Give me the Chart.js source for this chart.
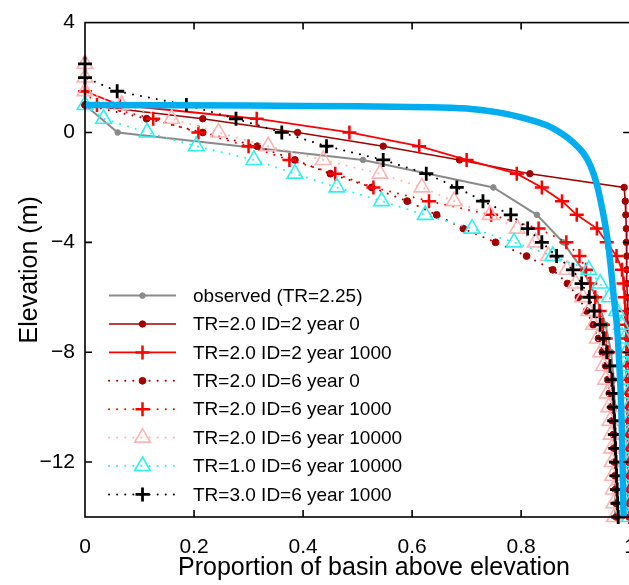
<!DOCTYPE html>
<html><head><meta charset="utf-8">
<script src="https://cdn.jsdelivr.net/npm/chart.js@4.4.1/dist/chart.umd.min.js"></script>
<style>
html,body{margin:0;padding:0;overflow:hidden;background:#fff;width:629px;height:585px}
#wrap{position:absolute;left:0;top:0;width:654px;height:585px}
</style>
</head><body><div id="wrap"><canvas id="c" width="654" height="585"></canvas></div>
<script>
// ---- tick labels ----
const xTicks = [0, 0.2, 0.4, 0.6, 0.8, 1];
const yTicks = [-12, -8, -4, 0, 4];
const xTitle = 'Proportion of basin above elevation';
const yTitle = 'Elevation (m)';

// ---- series labels ----
const seriesLabels = [
  'observed (TR=2.25)',
  'TR=2.0 ID=2 year 0',
  'TR=2.0 ID=2 year 1000',
  'TR=2.0 ID=6 year 0',
  'TR=2.0 ID=6 year 1000',
  'TR=2.0 ID=6 year 10000',
  'TR=1.0 ID=6 year 10000',
  'TR=3.0 ID=6 year 1000'
];

// ---- elevations (m) ----
const obsElev = [1, 0, -1, -2, -3, -4, -5, -6, -7, -8, -9, -10, -11, -12, -13, -14];
const elevFrom1 = [1, 0.5, 0, -0.5, -1, -1.5, -2, -2.5, -3, -3.5, -4, -4.5, -5, -5.5, -6, -6.5, -7, -7.5, -8, -8.5, -9, -9.5, -10, -10.5, -11, -11.5, -12, -12.5, -13, -13.5, -14];
const elevFrom15 = [1.5, 1, 0.5, 0, -0.5, -1, -1.5, -2, -2.5, -3, -3.5, -4, -4.5, -5, -5.5, -6, -6.5, -7, -7.5, -8, -8.5, -9, -9.5, -10, -10.5, -11, -11.5, -12, -12.5, -13, -13.5, -14];
const elevFrom25 = [2.5, 2, 1.5, 1, 0.5, 0, -0.5, -1, -1.5, -2, -2.5, -3, -3.5, -4, -4.5, -5, -5.5, -6, -6.5, -7, -7.5, -8, -8.5, -9, -9.5, -10, -10.5, -11, -11.5, -12, -12.5, -13, -13.5, -14];

// ---- proportion of basin above elevation ----
const obsProp = [0, 0.06, 0.51, 0.749, 0.829, 0.877, 0.913, 0.938, 0.955, 0.965, 0.970, 0.972, 0.9725, 0.9725, 0.9725, 0.9725];
const id2y0Prop = [0, 0.216, 0.39, 0.547, 0.687, 0.816, 0.989, 0.991, 0.992, 0.993, 0.993, 0.994, 0.994, 0.994, 0.995, 0.995, 0.995, 0.995, 0.996, 0.996, 0.996, 0.996, 0.997, 0.997, 0.997, 0.997, 0.997, 0.998, 0.998, 0.998, 0.998];
const id2y1000Prop = [0, 0.064, 0.315, 0.485, 0.613, 0.70, 0.792, 0.838, 0.875, 0.902, 0.939, 0.957, 0.975, 0.985, 0.988, 0.990, 0.991, 0.992, 0.993, 0.993, 0.994, 0.994, 0.995, 0.995, 0.995, 0.996, 0.996, 0.996, 0.997, 0.997, 0.997, 0.998];
const id6y0Prop = [0, 0.113, 0.216, 0.316, 0.385, 0.45, 0.526, 0.591, 0.645, 0.694, 0.753, 0.81, 0.858, 0.885, 0.905, 0.92, 0.932, 0.942, 0.949, 0.955, 0.959, 0.962, 0.965, 0.967, 0.969, 0.97, 0.971, 0.972, 0.973, 0.974, 0.975];
const id6y1000Prop = [0, 0.022, 0.125, 0.208, 0.30, 0.375, 0.459, 0.529, 0.631, 0.745, 0.832, 0.883, 0.907, 0.919, 0.927, 0.936, 0.944, 0.95, 0.955, 0.96, 0.963, 0.966, 0.968, 0.97, 0.971, 0.972, 0.973, 0.974, 0.975, 0.976, 0.977, 0.978];
const id6y10000Prop = [0, 0, 0, 0.067, 0.159, 0.245, 0.336, 0.437, 0.541, 0.618, 0.677, 0.743, 0.793, 0.826, 0.85, 0.884, 0.9, 0.913, 0.924, 0.933, 0.94, 0.946, 0.951, 0.955, 0.958, 0.961, 0.963, 0.965, 0.966, 0.967, 0.968, 0.969, 0.970, 0.971];
const tr1Prop = [0, 0.034, 0.114, 0.204, 0.31, 0.385, 0.462, 0.544, 0.624, 0.71, 0.787, 0.858, 0.924, 0.945, 0.962, 0.975, 0.984, 0.99, 0.993, 0.995, 0.996, 0.997, 0.998, 0.998, 0.998, 0.999, 0.999, 0.999, 0.999, 0.999, 0.999];
const tr3Prop = [0, 0, 0.059, 0.186, 0.277, 0.361, 0.443, 0.547, 0.626, 0.682, 0.73, 0.781, 0.812, 0.838, 0.865, 0.895, 0.911, 0.925, 0.934, 0.945, 0.951, 0.957, 0.963, 0.967, 0.969, 0.97, 0.971, 0.972, 0.973, 0.974, 0.975, 0.976, 0.977, 0.978];

// ---- thick blue curve (no legend entry) ----
const blueProp = [0, 0.3, 0.5, 0.63, 0.7, 0.755, 0.8, 0.847, 0.875, 0.895, 0.914, 0.927, 0.939, 0.95, 0.957, 0.964, 0.97, 0.976, 0.982, 0.985, 0.988];
const blueElev = [1.0, 0.98, 0.95, 0.92, 0.87, 0.74, 0.55, 0.26, -0.05, -0.35, -0.75, -1.2, -1.9, -2.9, -3.7, -4.8, -6, -7.1, -9.2, -11, -14];

const FONT = '"Liberation Sans", Arial, Helvetica, sans-serif';
const pts = (xs, ys) => xs.map((x, i) => ({x: x, y: ys[i]}));
const DOT = [0.1, 8];

function ds(label, xs, ys, o) {
  return Object.assign({
    label: label, data: pts(xs, ys), showLine: true, clip: false, tension: 0,
    borderWidth: 1.6, borderDash: [], borderCapStyle: 'butt',
    pointBorderWidth: 1, pointHoverRadius: 0, inLegend: true
  }, o);
}

const datasets = [
  ds('blue', blueProp, blueElev, {borderColor: '#00aeef', borderWidth: 6.5, pointRadius: 0, tension: 0.3, borderCapStyle: 'butt', inLegend: false, order: 0}),
  ds(seriesLabels[0], obsProp, obsElev, {borderColor: '#8a8a8a', borderWidth: 2, pointStyle: 'circle', pointRadius: 2.8, pointBackgroundColor: '#8a8a8a', pointBorderColor: '#8a8a8a', order: 9, legendIndex: 0}),
  ds(seriesLabels[1], id2y0Prop, elevFrom1, {borderColor: '#a00000', borderWidth: 1.6, pointStyle: 'circle', pointRadius: 3.2, pointBackgroundColor: '#a00000', pointBorderColor: '#a00000', order: 8, legendIndex: 1}),
  ds(seriesLabels[2], id2y1000Prop, elevFrom15, {borderColor: '#ff0000', borderWidth: 1.8, pointStyle: 'cross', pointRadius: 7, pointBorderWidth: 2.5, pointBorderColor: '#ff0000', pointBackgroundColor: '#ff0000', order: 7, legendIndex: 2}),
  ds(seriesLabels[3], id6y0Prop, elevFrom1, {borderColor: '#a00000', borderWidth: 2, borderDash: DOT, borderCapStyle: 'round', pointStyle: 'circle', pointRadius: 3.4, pointBackgroundColor: '#a00000', pointBorderColor: '#a00000', order: 6, legendIndex: 3}),
  ds(seriesLabels[4], id6y1000Prop, elevFrom15, {borderColor: '#ff0000', borderWidth: 2, borderDash: DOT, borderCapStyle: 'round', pointStyle: 'cross', pointRadius: 7, pointBorderWidth: 2.5, pointBorderColor: '#ff0000', pointBackgroundColor: '#ff0000', order: 5, legendIndex: 4}),
  ds(seriesLabels[5], id6y10000Prop, elevFrom25, {borderColor: '#ffb4b4', borderWidth: 2, borderDash: DOT, borderCapStyle: 'round', pointStyle: 'triangle', pointRadius: 9, pointBorderWidth: 1.6, pointBorderColor: '#ffb4b4', pointBackgroundColor: 'rgba(0,0,0,0)', order: 4, legendIndex: 5}),
  ds(seriesLabels[6], tr1Prop, elevFrom1, {borderColor: '#33eeee', borderWidth: 2, borderDash: DOT, borderCapStyle: 'round', pointStyle: 'triangle', pointRadius: 9, pointBorderWidth: 1.6, pointBorderColor: '#33eeee', pointBackgroundColor: 'rgba(0,0,0,0)', order: 3, legendIndex: 6}),
  ds(seriesLabels[7], tr3Prop, elevFrom25, {borderColor: '#000000', borderWidth: 2, borderDash: DOT, borderCapStyle: 'round', pointStyle: 'cross', pointRadius: 7, pointBorderWidth: 2.8, pointBorderColor: '#000000', pointBackgroundColor: '#000000', order: 2, legendIndex: 7})
];

function drawMarker(ctx, style, x, y, r, stroke, fill, lw) {
  ctx.save();
  ctx.setLineDash([]);
  ctx.lineWidth = lw; ctx.strokeStyle = stroke; ctx.fillStyle = fill;
  ctx.beginPath();
  if (style === 'circle') {
    ctx.arc(x, y, r, 0, Math.PI * 2); ctx.fill(); ctx.stroke();
  } else if (style === 'cross') {
    ctx.moveTo(x - r, y); ctx.lineTo(x + r, y); ctx.moveTo(x, y - r); ctx.lineTo(x, y + r); ctx.stroke();
  } else if (style === 'triangle') {
    let a = 0;
    ctx.moveTo(x + Math.sin(a) * r, y - Math.cos(a) * r);
    a += 2 * Math.PI / 3; ctx.lineTo(x + Math.sin(a) * r, y - Math.cos(a) * r);
    a += 2 * Math.PI / 3; ctx.lineTo(x + Math.sin(a) * r, y - Math.cos(a) * r);
    ctx.closePath(); ctx.stroke();
  }
  ctx.restore();
}

const framePlugin = {
  id: 'frame',
  afterDatasetsDraw(chart) {
    const {ctx, chartArea: ca, scales} = chart;
    ctx.save();
    ctx.strokeStyle = '#000'; ctx.lineWidth = 1.6; ctx.setLineDash([]);
    ctx.strokeRect(ca.left, ca.top, ca.right - ca.left, ca.bottom - ca.top);
    const L = 7;
    ctx.beginPath();
    scales.x.ticks.forEach(t => {
      if (t.value <= scales.x.min || t.value >= scales.x.max) return;
      const px = scales.x.getPixelForValue(t.value);
      ctx.moveTo(px, ca.bottom); ctx.lineTo(px, ca.bottom - L);
      ctx.moveTo(px, ca.top); ctx.lineTo(px, ca.top + L);
    });
    scales.y.ticks.forEach(t => {
      if (t.value <= scales.y.min || t.value >= scales.y.max) return;
      const py = scales.y.getPixelForValue(t.value);
      ctx.moveTo(ca.left, py); ctx.lineTo(ca.left + L, py);
      ctx.moveTo(ca.right, py); ctx.lineTo(ca.right - L, py);
    });
    ctx.stroke();
    // x-axis title, centred as in the original figure
    ctx.fillStyle = '#000'; ctx.font = '25px ' + FONT;
    ctx.textAlign = 'center'; ctx.textBaseline = 'middle';
    ctx.fillText(xTitle, ca.left + 289, 568);
    ctx.restore();
  }
};

const legendPlugin = {
  id: 'inlegend',
  afterDraw(chart) {
    const {ctx, chartArea: ca} = chart;
    const items = chart.data.datasets.filter(d => d.inLegend).sort((a, b) => a.legendIndex - b.legendIndex);
    ctx.save();
    items.forEach((d, i) => {
      const y = ca.top + 273 + i * 28.4;
      const x0 = ca.left + 24, x1 = ca.left + 91, xm = (x0 + x1) / 2;
      ctx.strokeStyle = d.borderColor; ctx.lineWidth = d.borderWidth;
      ctx.setLineDash(d.borderDash || []); ctx.lineCap = d.borderCapStyle || 'butt';
      ctx.beginPath(); ctx.moveTo(x0, y); ctx.lineTo(x1, y); ctx.stroke();
      ctx.setLineDash([]); ctx.lineCap = 'butt';
      drawMarker(ctx, d.pointStyle, xm, y, d.pointRadius, d.pointBorderColor, d.pointBackgroundColor, d.pointBorderWidth);
      ctx.fillStyle = '#000'; ctx.font = '19px ' + FONT;
      ctx.textBaseline = 'middle'; ctx.textAlign = 'left';
      ctx.fillText(d.label, ca.left + 108, y + 1);
    });
    ctx.restore();
  }
};

new Chart(document.getElementById('c'), {
  type: 'scatter',
  data: {datasets: datasets},
  plugins: [framePlugin, legendPlugin],
  options: {
    responsive: false, animation: false, devicePixelRatio: 1,
    layout: {padding: {top: 20, right: 10, left: 0, bottom: 0}},
    plugins: {legend: {display: false}, tooltip: {enabled: false}},
    events: [],
    scales: {
      x: {
        type: 'linear', position: 'bottom', min: 0, max: 1,
        afterBuildTicks: s => { s.ticks = xTicks.map(v => ({value: v})); },
        afterFit: s => { s.height = 68; },
        grid: {display: false, drawTicks: false}, border: {display: false},
        ticks: {padding: 18, color: '#000', font: {family: FONT, size: 21}, maxRotation: 0,
          callback: v => (v === 0 ? '0' : v === 1 ? '1' : v.toFixed(1))},
        title: {display: false}
      },
      y: {
        type: 'linear', position: 'left', min: -14, max: 4,
        afterBuildTicks: s => { s.ticks = yTicks.map(v => ({value: v})); },
        afterFit: s => { s.width = 85; },
        grid: {display: false, drawTicks: false}, border: {display: false},
        ticks: {padding: 10, color: '#000', font: {family: FONT, size: 21},
          callback: v => (v < 0 ? '\u2212' + Math.abs(v) : String(v))},
        title: {display: true, text: yTitle, color: '#000',
          font: {family: FONT, size: 25}, padding: {top: 15, bottom: 0}}
      }
    }
  }
});
</script>
</body></html>
